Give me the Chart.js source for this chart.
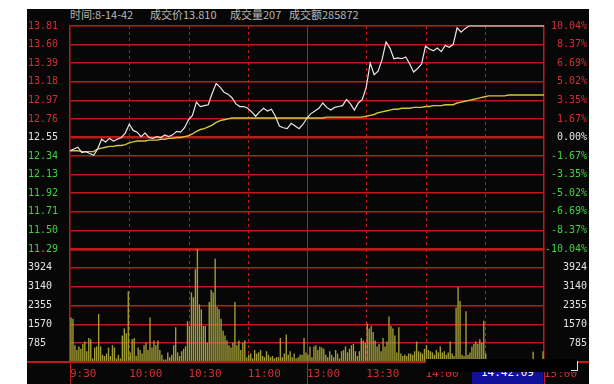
<!DOCTYPE html>
<html>
<head>
<meta charset="utf-8">
<script src="https://cdn.jsdelivr.net/npm/chart.js@4.4.1/dist/chart.umd.min.js"></script>
<style>
body{margin:0;background:#fff;width:614px;height:384px;overflow:hidden;position:relative}
#panel{position:absolute;left:27px;top:9px;width:562px;height:375px;background:#070707}
#top{position:absolute;left:0;top:0}
#bot{position:absolute;left:0;top:240px}
.hd{position:absolute;top:8px;line-height:13px;font-size:11px;font-family:"Noto Sans CJK SC",sans-serif;color:#b8b8b8;white-space:pre}
#mask{position:absolute;left:426px;top:359px;width:151px;height:13px;background:#000}
#clock{position:absolute;left:472px;top:366px;width:71px;height:18px;background:#10109a;color:#fff;font:11px "DejaVu Sans Mono",monospace;text-align:center;line-height:14px}
#bracket{position:absolute;left:571px;top:361px;width:6px;height:9px;border-right:1px solid #ddd;border-bottom:1px solid #ddd}
</style>
</head>
<body>
<div id="panel"></div>
<div class="hd" style="left:70px">时间:8-14-42</div>
<div class="hd" style="left:150px">成交价13.810</div>
<div class="hd" style="left:230px">成交量207</div>
<div class="hd" style="left:289px">成交额285872</div>
<canvas id="top" width="614" height="262"></canvas>
<canvas id="bot" width="614" height="144"></canvas>
<div id="clock">14:42:09</div>
<div id="mask"></div>
<div id="bracket"></div>
<script>
var timeLabels = ['9:30','10:00','10:30','11:00','13:00','13:30','14:00','14:30','15:00'];
var priceTicks = [13.81,13.60,13.39,13.18,12.97,12.76,12.55,12.34,12.13,11.92,11.71,11.50,11.29];
var pctTicks = [10.04,8.37,6.69,5.02,3.35,1.67,0,-1.67,-3.35,-5.02,-6.69,-8.37,-10.04];
var volTicks = [785,1570,2355,3140,3924];
var prevClose = 12.55;
var volMax = 4709;

// price and average price, one point every 2 minutes (121 points)
var price = [
  12.40,12.42,12.44,12.38,12.39,12.37,12.35,12.42,12.53,12.50,
  12.54,12.51,12.53,12.55,12.60,12.70,12.63,12.61,12.56,12.60,
  12.55,12.54,12.56,12.55,12.58,12.56,12.58,12.62,12.61,12.66,
  12.75,12.80,12.95,12.90,12.91,12.92,13.05,13.16,13.12,13.06,
  13.04,13.00,12.93,12.90,12.90,12.88,12.84,12.79,12.84,12.88,
  12.85,12.87,12.79,12.68,12.66,12.65,12.71,12.68,12.65,12.70,
  12.77,12.82,12.85,12.88,12.94,12.89,12.86,12.89,12.90,12.91,
  12.98,12.93,12.86,12.94,12.98,13.12,13.39,13.26,13.30,13.43,
  13.63,13.56,13.44,13.45,13.44,13.46,13.38,13.29,13.33,13.38,
  13.58,13.55,13.53,13.56,13.52,13.59,13.57,13.60,13.79,13.74,
  13.78,13.81,13.81,13.81,13.81,13.81,13.81,13.81,13.81,13.81,
  13.81,13.81,13.81,13.81,13.81,13.81,13.81,13.81,13.81,13.81,
  13.81
];
var avgPrice = [
  12.40,12.40,12.40,12.39,12.39,12.39,12.39,12.42,12.43,12.44,
  12.45,12.45,12.46,12.46,12.47,12.49,12.50,12.51,12.51,12.51,
  12.52,12.52,12.52,12.53,12.53,12.54,12.54,12.55,12.55,12.56,
  12.57,12.59,12.62,12.64,12.65,12.67,12.69,12.72,12.74,12.75,
  12.76,12.77,12.77,12.77,12.77,12.77,12.77,12.77,12.77,12.77,
  12.77,12.77,12.77,12.77,12.77,12.77,12.77,12.77,12.77,12.77,
  12.77,12.77,12.77,12.77,12.77,12.78,12.78,12.78,12.78,12.78,
  12.78,12.78,12.78,12.78,12.78,12.79,12.80,12.81,12.83,12.84,
  12.85,12.86,12.87,12.87,12.88,12.88,12.88,12.89,12.89,12.89,
  12.90,12.90,12.91,12.91,12.91,12.92,12.92,12.92,12.94,12.95,
  12.96,12.97,12.98,12.99,13.00,13.01,13.02,13.02,13.02,13.02,
  13.02,13.03,13.03,13.03,13.03,13.03,13.03,13.03,13.03,13.03,
  13.03
];
// volume per minute, one row per half hour
var volume = [
  1850,1800,700,500,650,550,750,850,450,1000,950,150,600,650,2000,650,300,250,350,600,250,700,600,150,300,150,1100,1400,1200,2950,
  400,950,1000,250,600,500,350,700,800,500,1850,600,900,700,900,500,300,100,100,400,200,300,700,1450,400,250,450,550,650,1700,
  1500,2900,2700,3870,4700,2400,2200,1500,1500,800,2500,3000,2900,4300,2300,2200,1800,1300,1100,900,700,600,800,2500,700,900,500,800,900,200,
  300,350,150,500,350,400,500,250,200,450,300,200,250,150,200,200,1000,200,350,1150,300,450,200,350,150,200,300,300,1000,400,
  300,650,200,650,700,500,650,600,550,300,200,450,300,200,500,350,150,450,500,650,400,550,700,750,450,250,450,1000,900,800,
  1600,1400,1500,1250,900,650,750,450,1000,650,850,1900,1500,1400,1100,400,1450,350,250,300,250,350,350,300,450,850,450,400,350,550,
  700,500,450,400,300,500,400,650,400,450,300,400,850,350,250,2270,3120,2540,300,250,2120,300,400,650,750,850,750,950,800,1720,
  350,100,80,90,60,110,70,80,100,60,90,70,120,80,60,100,70,90,60,80,110,70,90,60,430,80,60,90,70,450
];

var gridColor = '#bf1a1a';
var red = '#d03030', green = '#3fd23f', white = '#e4e4e4';
var tickFont = {family: 'DejaVu Sans Mono', size: 10};

function priceColor(c){
  var v = c.tick.value;
  if (Math.abs(v - prevClose) < 0.001) return white;
  return v > prevClose ? red : green;
}
function pctColor(c){
  var v = c.tick.value;
  if (Math.abs(v) < 0.001) return white;
  return v > 0 ? red : green;
}

var vlines = {
  id: 'vlines',
  beforeDatasetsDraw: function(chart){
    var ctx = chart.ctx, a = chart.chartArea, xs = chart.scales.x;
    ctx.save();
    ctx.strokeStyle = gridColor;
    ctx.lineWidth = 1;
    for (var t = 30; t < 240; t += 30){
      var px = Math.round(xs.getPixelForValue(t)) + 0.5;
      ctx.setLineDash(t == 120 ? [] : [3, 3]);
      ctx.beginPath();
      ctx.moveTo(px, a.top);
      ctx.lineTo(px, a.bottom);
      ctx.stroke();
    }
    ctx.restore();
  }
};

// lines that run past the plot box in the lower panel
var bottomFrame = {
  id: 'bottomFrame',
  afterDraw: function(chart){
    var ctx = chart.ctx, a = chart.chartArea, xs = chart.scales.x;
    ctx.save();
    ctx.strokeStyle = gridColor;
    ctx.lineWidth = 2;
    ctx.beginPath();
    ctx.moveTo(27, a.bottom);
    ctx.lineTo(589, a.bottom);
    ctx.stroke();
    ctx.lineWidth = 1;
    [0, 120, 240].forEach(function(t){
      var px = Math.round(xs.getPixelForValue(t)) + 0.5;
      ctx.beginPath();
      ctx.moveTo(px, a.bottom);
      ctx.lineTo(px, chart.height);
      ctx.stroke();
    });
    ctx.restore();
  }
};

var priceData = price.map(function(v, i){ return {x: i * 2, y: v}; });
var avgData = avgPrice.map(function(v, i){ return {x: i * 2, y: v}; });
var volData = volume.map(function(v, i){ return {x: i + 0.5, y: v}; });

new Chart(document.getElementById('top').getContext('2d'), {
  type: 'line',
  data: {
    datasets: [
      {data: priceData, borderColor: '#e8e8e8', borderWidth: 1.2, pointRadius: 0, tension: 0, clip: false, yAxisID: 'y'},
      {data: avgData, borderColor: '#d2c83a', borderWidth: 1.4, pointRadius: 0, tension: 0, clip: false, yAxisID: 'y'}
    ]
  },
  options: {
    responsive: false,
    animation: false,
    layout: {padding: {left: 28, right: 27, top: 26, bottom: 13}},
    plugins: {legend: {display: false}, tooltip: {enabled: false}},
    scales: {
      x: {type: 'linear', min: 0, max: 240, display: false},
      y: {
        position: 'left', min: 11.29, max: 13.81,
        afterBuildTicks: function(s){ s.ticks = priceTicks.map(function(v){ return {value: v}; }); },
        afterFit: function(s){ s.width = 42; },
        ticks: {color: priceColor, font: tickFont, crossAlign: 'far', padding: 0,
          callback: function(v){ return v.toFixed(2); }},
        grid: {color: gridColor, drawTicks: false,
          lineWidth: function(c){ var v = c.tick.value; return (Math.abs(v - prevClose) < 0.001 || Math.abs(v - 11.29) < 0.001) ? 2.5 : 1.5; }},
        border: {color: gridColor, width: 1.5}
      },
      y2: {
        position: 'right', min: -10.04, max: 10.04,
        afterBuildTicks: function(s){ s.ticks = pctTicks.map(function(v){ return {value: v}; }); },
        afterFit: function(s){ s.width = 43; },
        ticks: {color: pctColor, font: tickFont, crossAlign: 'far', padding: 0,
          callback: function(v){ return v.toFixed(2) + '%'; }},
        grid: {drawOnChartArea: false, drawTicks: false},
        border: {color: gridColor, width: 1.5}
      }
    }
  },
  plugins: [vlines]
});

new Chart(document.getElementById('bot').getContext('2d'), {
  type: 'bar',
  data: {
    datasets: [
      {data: volData, backgroundColor: '#a29e36', barPercentage: 1, categoryPercentage: 0.7, yAxisID: 'v'}
    ]
  },
  options: {
    responsive: false,
    animation: false,
    layout: {padding: {left: 28, right: 27, top: 9, bottom: 0}},
    plugins: {legend: {display: false}, tooltip: {enabled: false}},
    scales: {
      x: {
        type: 'linear', min: 0, max: 240, offset: false,
        afterBuildTicks: function(s){ s.ticks = timeLabels.map(function(l, i){ return {value: i * 30}; }); },
        afterFit: function(s){ s.height = 22; },
        ticks: {color: red, font: {family: 'DejaVu Sans Mono', size: 11}, align: 'start', padding: -2, maxRotation: 0, autoSkip: false,
          callback: function(v){ return timeLabels[Math.round(v / 30)]; }},
        grid: {display: false, offset: false},
        border: {display: false}
      },
      v: {
        position: 'left', min: 0, max: volMax,
        afterBuildTicks: function(s){ s.ticks = [0].concat(volTicks, [volMax]).map(function(v){ return {value: v}; }); },
        afterFit: function(s){ s.width = 42; },
        ticks: {color: white, font: tickFont, crossAlign: 'far', padding: 0,
          callback: function(v){ return (v == 0 || v == volMax) ? '' : String(v); }},
        grid: {color: gridColor, drawTicks: false,
          lineWidth: function(c){ return c.tick.value == volMax ? 2.5 : 1.5; }},
        border: {color: gridColor, width: 1.5}
      },
      v2: {
        position: 'right', min: 0, max: volMax,
        afterBuildTicks: function(s){ s.ticks = [0].concat(volTicks, [volMax]).map(function(v){ return {value: v}; }); },
        afterFit: function(s){ s.width = 43; },
        ticks: {color: white, font: tickFont, crossAlign: 'far', padding: 0,
          callback: function(v){ return (v == 0 || v == volMax) ? '' : String(v); }},
        grid: {drawOnChartArea: false, drawTicks: false},
        border: {color: gridColor, width: 1.5}
      }
    }
  },
  plugins: [vlines, bottomFrame]
});
</script>
</body>
</html>
